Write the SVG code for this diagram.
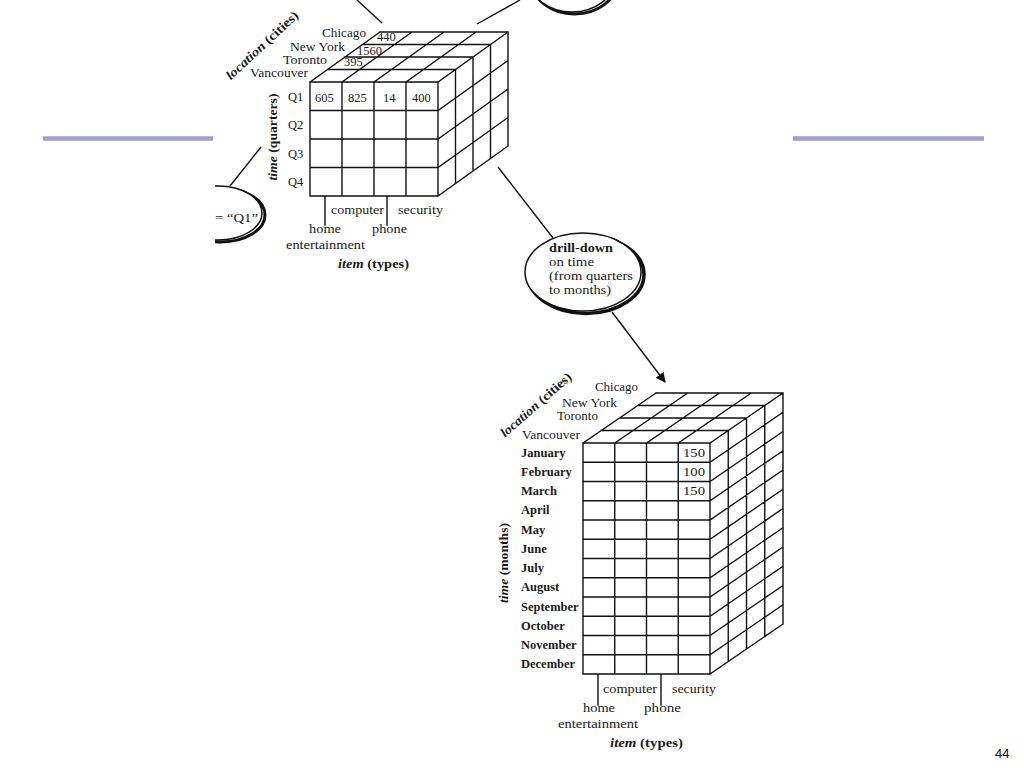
<svg xmlns="http://www.w3.org/2000/svg" width="1024" height="768" viewBox="0 0 1024 768">
<style>
.g{fill:none;stroke:#111;stroke-width:1.4;stroke-linecap:square}
.c{fill:none;stroke:#111;stroke-width:1.4}
.t{font-family:"Liberation Serif","Times New Roman",serif;font-size:13px;fill:#1a1a1a}
.s{font-family:"Liberation Serif","Times New Roman",serif;font-size:11.5px;fill:#1a1a1a}
.n{font-family:"Liberation Serif","Times New Roman",serif;font-size:12.5px;fill:#1a1a1a}
.m{font-family:"Liberation Serif","Times New Roman",serif;font-size:12.5px;font-weight:bold;fill:#1a1a1a}
.b{font-weight:bold}
.i{font-style:italic}
.deco{stroke:#a09dcf;stroke-width:4.5}
.pg{font-family:"Liberation Sans",Arial,sans-serif;font-size:13px;fill:#111}
</style>
<defs>
<marker id="ah" viewBox="0 0 10 10" refX="9" refY="5" markerWidth="10" markerHeight="10" markerUnits="userSpaceOnUse" orient="auto">
<path d="M0,0 L10,5 L0,10 z" fill="#111"/>
</marker>
<clipPath id="clipL"><rect x="215" y="0" width="809" height="768"/></clipPath>
</defs>
<rect width="1024" height="768" fill="#fff"/>

<g id="decoration">
<line class="deco" x1="43" y1="138.5" x2="213" y2="138.5"/>
<line class="deco" x1="793" y1="138.5" x2="984" y2="138.5"/>
<text class="pg" x="995" y="758">44</text>
</g>

<g id="connectors">
<line class="c" x1="357" y1="0" x2="382" y2="23"/>
<line class="c" x1="477" y1="24" x2="520" y2="0"/>
<line class="c" x1="230" y1="186" x2="261" y2="147"/>
<line class="c" x1="498" y1="167" x2="553" y2="238"/>
<line class="c" x1="612" y1="312" x2="665" y2="382" marker-end="url(#ah)"/>
</g>

<g id="bubble-top">
<ellipse cx="574.5" cy="-18" rx="42" ry="32" fill="none" stroke="#111" stroke-width="3"/>
<ellipse cx="572" cy="-20" rx="42" ry="32" fill="#fff" stroke="#111" stroke-width="1.5"/>
</g>

<g id="bubble-left" clip-path="url(#clipL)">
<ellipse cx="221" cy="215" rx="44" ry="27" fill="none" stroke="#111" stroke-width="3"/>
<ellipse cx="218" cy="213" rx="44" ry="27" fill="#fff" stroke="#111" stroke-width="1.5"/>
<text class="t" x="215" y="222" textLength="43" lengthAdjust="spacingAndGlyphs">= “Q1”</text>
</g>

<g id="cube-quarters">
<path class="g" d="M310,82 H438 V196 H310 Z M342,82 V196 M374,82 V196 M406,82 V196 M310,110.5 H438 M310,139 H438 M310,167.5 H438
M327.5,69.5 H455.5 M345,57 H473 M362.5,44.5 H490.5 M380,32 H508
M310,82 L380,32 M342,82 L412,32 M374,82 L444,32 M406,82 L476,32 M438,82 L508,32
M455.5,69.5 V183.5 M473,57 V171 M490.5,44.5 V158.5 M508,32 V146
M438,110.5 L508,60.5 M438,139 L508,89 M438,167.5 L508,117.5 M438,196 L508,146
M325,196 V225 M387,196 V225"/>
<text class="s" x="322" y="37" textLength="44" lengthAdjust="spacingAndGlyphs">Chicago</text>
<text class="n" x="377" y="41">440</text>
<text class="s" x="290" y="50.5" textLength="55" lengthAdjust="spacingAndGlyphs">New York</text>
<text class="n" x="357" y="55">1560</text>
<text class="s" x="283" y="63.5" textLength="44" lengthAdjust="spacingAndGlyphs">Toronto</text>
<text class="n" x="344" y="66">395</text>
<text class="s" x="250" y="77" textLength="58" lengthAdjust="spacingAndGlyphs">Vancouver</text>
<text class="t b" transform="translate(265,48.5) rotate(-43)" text-anchor="middle" textLength="94" lengthAdjust="spacingAndGlyphs"><tspan class="i">location</tspan> (cities)</text>
<text class="t b" transform="translate(277,137) rotate(-90)" text-anchor="middle" textLength="87" lengthAdjust="spacingAndGlyphs"><tspan class="i">time</tspan> (quarters)</text>
<text class="n" x="288" y="100.5">Q1</text>
<text class="n" x="288" y="129">Q2</text>
<text class="n" x="288" y="157.5">Q3</text>
<text class="n" x="288" y="186">Q4</text>
<text class="n" x="315" y="101.5">605</text>
<text class="n" x="348" y="101.5">825</text>
<text class="n" x="383" y="101.5">14</text>
<text class="n" x="412" y="101.5">400</text>
<text class="t" x="331" y="214" textLength="53" lengthAdjust="spacingAndGlyphs">computer</text>
<text class="t" x="398" y="214" textLength="45" lengthAdjust="spacingAndGlyphs">security</text>
<text class="t" x="309" y="233" textLength="32" lengthAdjust="spacingAndGlyphs">home</text>
<text class="t" x="372" y="233" textLength="35" lengthAdjust="spacingAndGlyphs">phone</text>
<text class="t" x="286" y="249" textLength="79" lengthAdjust="spacingAndGlyphs">entertainment</text>
<text class="t b" x="338" y="268" textLength="71" lengthAdjust="spacingAndGlyphs"><tspan class="i">item</tspan> (types)</text>
</g>

<g id="bubble-drilldown">
<ellipse cx="586" cy="274.5" rx="58" ry="39" fill="none" stroke="#111" stroke-width="3.5"/>
<ellipse cx="583" cy="272" rx="58" ry="39" fill="#fff" stroke="#111" stroke-width="1.5"/>
<text class="t b" x="549" y="252" textLength="64" lengthAdjust="spacingAndGlyphs">drill-down</text>
<text class="t" x="549" y="266" textLength="45" lengthAdjust="spacingAndGlyphs">on time</text>
<text class="t" x="549" y="280" textLength="84" lengthAdjust="spacingAndGlyphs">(from quarters</text>
<text class="t" x="549" y="294" textLength="62" lengthAdjust="spacingAndGlyphs">to months)</text>
</g>

<g id="cube-months">
<path class="g" d="M583,443 H710 V674 H583 Z M614.75,443 V674 M646.5,443 V674 M678.25,443 V674
M583,462.25 H710 M583,481.5 H710 M583,500.75 H710 M583,520 H710 M583,539.25 H710 M583,558.5 H710 M583,577.75 H710 M583,597 H710 M583,616.25 H710 M583,635.5 H710 M583,654.75 H710
M601.25,430.5 H728.25 M619.5,418 H746.5 M637.75,405.5 H764.75 M656,393 H783
M583,443 L656,393 M614.75,443 L687.75,393 M646.5,443 L719.5,393 M678.25,443 L751.25,393 M710,443 L783,393
M728.25,430.5 V661.5 M746.5,418 V649 M764.75,405.5 V636.5 M783,393 V624
M710,462.25 L783,412.25 M710,481.5 L783,431.5 M710,500.75 L783,450.75 M710,520 L783,470 M710,539.25 L783,489.25 M710,558.5 L783,508.5 M710,577.75 L783,527.75 M710,597 L783,547 M710,616.25 L783,566.25 M710,635.5 L783,585.5 M710,654.75 L783,604.75 M710,674 L783,624
M598,674 V705 M661,674 V705"/>
<text class="t" x="595" y="391" textLength="43" lengthAdjust="spacingAndGlyphs">Chicago</text>
<text class="t" x="562" y="407" textLength="55" lengthAdjust="spacingAndGlyphs">New York</text>
<text class="t" x="557" y="420" textLength="41" lengthAdjust="spacingAndGlyphs">Toronto</text>
<text class="t" x="522" y="439" textLength="58" lengthAdjust="spacingAndGlyphs">Vancouver</text>
<text class="t b" transform="translate(538.7,408) rotate(-41.4)" text-anchor="middle" textLength="90" lengthAdjust="spacingAndGlyphs"><tspan class="i">location</tspan> (cities)</text>
<text class="t b" transform="translate(508,563) rotate(-90)" text-anchor="middle" textLength="80" lengthAdjust="spacingAndGlyphs"><tspan class="i">time</tspan> (months)</text>
<text class="m" x="521" y="456.5">January</text>
<text class="m" x="521" y="475.7">February</text>
<text class="m" x="521" y="495">March</text>
<text class="m" x="521" y="514.2">April</text>
<text class="m" x="521" y="533.5">May</text>
<text class="m" x="521" y="552.7">June</text>
<text class="m" x="521" y="572">July</text>
<text class="m" x="521" y="591.2">August</text>
<text class="m" x="521" y="610.5">September</text>
<text class="m" x="521" y="629.7">October</text>
<text class="m" x="521" y="649">November</text>
<text class="m" x="521" y="668.2">December</text>
<text class="n" x="683" y="456.5" textLength="22" lengthAdjust="spacingAndGlyphs">150</text>
<text class="n" x="683" y="475.7" textLength="22" lengthAdjust="spacingAndGlyphs">100</text>
<text class="n" x="683" y="495" textLength="22" lengthAdjust="spacingAndGlyphs">150</text>
<text class="t" x="603" y="693" textLength="54" lengthAdjust="spacingAndGlyphs">computer</text>
<text class="t" x="672" y="693" textLength="44" lengthAdjust="spacingAndGlyphs">security</text>
<text class="t" x="583" y="712" textLength="32" lengthAdjust="spacingAndGlyphs">home</text>
<text class="t" x="644" y="712" textLength="37" lengthAdjust="spacingAndGlyphs">phone</text>
<text class="t" x="558" y="728" textLength="80" lengthAdjust="spacingAndGlyphs">entertainment</text>
<text class="t b" x="610" y="747" textLength="73" lengthAdjust="spacingAndGlyphs"><tspan class="i">item</tspan> (types)</text>
</g>
</svg>
